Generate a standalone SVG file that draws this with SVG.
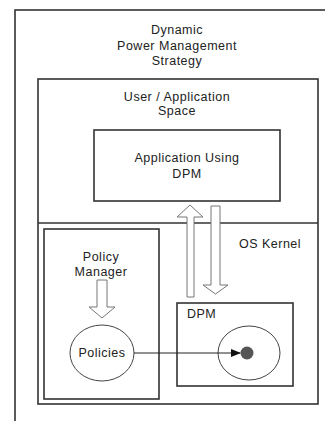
<svg xmlns="http://www.w3.org/2000/svg" width="325" height="421" viewBox="0 0 325 421">
<defs>
<style>
.box{fill:none;stroke:#333;stroke-width:1.6}
.fat{fill:#fff;stroke:#777;stroke-width:1}
.ell{fill:none;stroke:#444;stroke-width:1}
text{font-family:"Liberation Sans",Arial,sans-serif;font-size:12.5px;letter-spacing:0.5px;fill:#222;text-anchor:middle}
</style>
<marker id="tri" markerWidth="10" markerHeight="8" refX="9" refY="4" orient="auto" markerUnits="userSpaceOnUse">
<path d="M0,0 L10,4 L0,8 Z" fill="#111"/>
</marker>
</defs>
<rect width="325" height="421" fill="#fff"/>
<g id="outer">
<rect class="box" x="15" y="10" width="330" height="430"/>
<text x="177" y="34">Dynamic</text>
<text x="177" y="50">Power Management</text>
<text x="177" y="65">Strategy</text>
</g>
<g id="user-space">
<rect class="box" x="38" y="79" width="280" height="325"/>
<line class="box" x1="38" y1="223" x2="318" y2="223"/>
<text x="177" y="101">User / Application</text>
<text x="177" y="115">Space</text>
<text x="270" y="248">OS  Kernel</text>
</g>
<g id="app">
<rect class="box" x="94" y="130" width="186" height="71"/>
<text x="187" y="162">Application Using</text>
<text x="187" y="178">DPM</text>
</g>
<g id="policy-manager">
<rect class="box" x="44" y="229" width="115" height="170"/>
<text x="101" y="261">Policy</text>
<text x="101" y="276">Manager</text>
</g>
<g id="policies">
<ellipse class="ell" cx="102" cy="353" rx="32" ry="28"/>
<text x="102" y="357">Policies</text>
</g>
<g id="dpm">
<rect class="box" x="177" y="303" width="116" height="83"/>
<text x="187" y="318" style="text-anchor:start">DPM</text>
<ellipse class="ell" cx="249" cy="353" rx="31" ry="27"/>
<circle cx="247" cy="353" r="6.5" fill="#555"/>
</g>
<g id="connectors">
<path class="fat" d="M190,205 L203,217 L194,217 L194,297 L187,297 L187,217 L177,217 Z"/>
<path class="fat" d="M211,206 L220,206 L220,285 L228,285 L215.5,294 L203,285 L211,285 Z"/>
<path class="fat" d="M97,280 L107,280 L107,307 L115,307 L102,318 L89,307 L97,307 Z"/>
<line x1="134" y1="353" x2="240" y2="353" stroke="#222" stroke-width="1" marker-end="url(#tri)"/>
</g>
</svg>
